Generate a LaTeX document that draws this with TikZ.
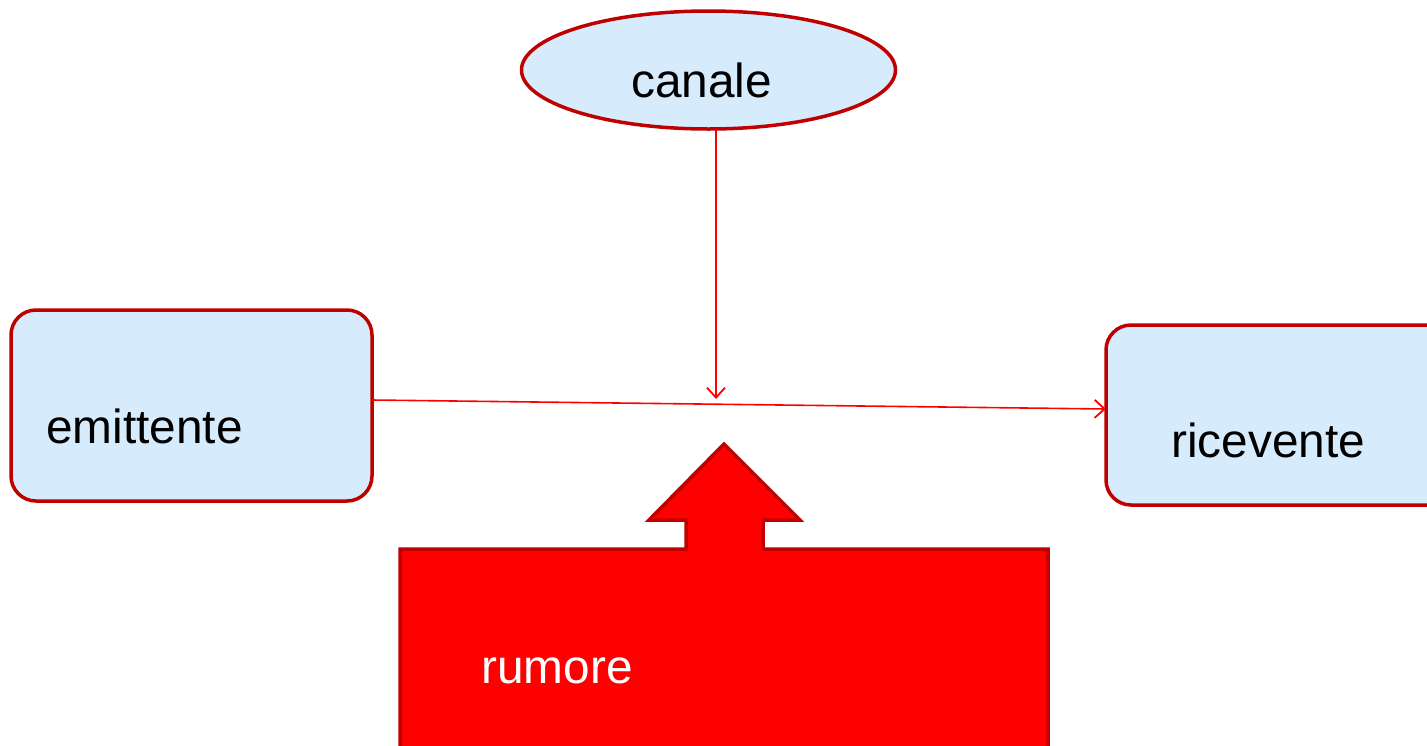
\documentclass[tikz,border=0pt]{standalone}
\usepackage{fontspec}
\setmainfont{Liberation Sans}
\usetikzlibrary{shapes.geometric,arrows.meta}
\definecolor{boxfill}{HTML}{D6EBFC}
\definecolor{darkred}{HTML}{C00000}
\definecolor{brightred}{HTML}{FF0000}
\tikzset{
  entity/.style={draw=darkred, fill=boxfill, line width=3.5pt, rounded corners=25pt},
  lbl/.style={font=\fontsize{47.8}{56}\selectfont, inner sep=0pt, anchor=base west},
  flow/.style={draw=brightred, line width=1.6pt, -{Straight Barb[length=10pt,width=18pt,line width=1.8pt]}},
}
\begin{document}
\begin{tikzpicture}[x=1pt,y=-1pt]
\useasboundingbox (0,0) rectangle (1427,745);
\begin{scope}
\clip (0,0) rectangle (1427,745);
% canale ellipse
\node[ellipse, draw=darkred, fill=boxfill, line width=3.5pt, minimum width=374pt, minimum height=118pt, inner sep=0pt] (canale) at (708.5,70) {};
\node[lbl] (canalet) at (631,97) {canale};
% emittente
\draw[entity] (11,310) rectangle (372,501);
\coordinate (emR) at (372,400);
\node[lbl] (emt) at (46,443) {emittente};
% ricevente
\draw[entity] (1106,325) rectangle (1460,505);
\coordinate (ricL) at (1106,409);
\node[lbl] (rict) at (1171,457) {ricevente};
% rumore shape
\draw[fill=brightred, draw=darkred, line width=3.5pt, line join=miter]
  (400,760) -- (400,549) -- (686,549) -- (686,520) -- (649,520) -- (724,444)
  -- (800,520) -- (763,520) -- (763,549) -- (1048,549) -- (1048,760);
\node[lbl, text=white] (rum) at (481,683) {rumore};
% connectors
\coordinate (canB) at (716,130);
\coordinate (mid) at (716,399);
\draw[flow] (canB) -- (mid);
\draw[flow] (emR) -- (ricL);
\end{scope}
\end{tikzpicture}
\end{document}
